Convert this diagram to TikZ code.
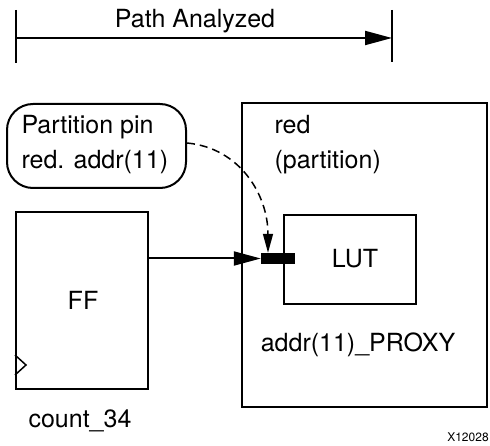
\documentclass[tikz,border=0pt]{standalone}
\usepackage{fontspec}
\setmainfont{TeX Gyre Heros}
\usetikzlibrary{arrows.meta}
\begin{document}
\begin{tikzpicture}[x=1pt,y=-1pt,
  box/.style={draw,line width=2pt,inner sep=0pt},
  big/.style={font=\fontsize{25}{35}\selectfont},
  bighead/.style={-{Triangle[length=27pt,width=14pt]}},
  smallhead/.style={-{Triangle[length=19pt,width=10pt]}}]
\useasboundingbox (0,0) rectangle (490,446);
% dimension line
\coordinate (dl) at (16,38);
\coordinate (dr) at (392,38);
\draw[line width=2.5pt] (16,10) -- (16,63);
\draw[line width=2.5pt] (392,10) -- (392,62);
\draw[line width=2pt,bighead] (dl) -- (dr);
\node[big,anchor=base] (title) at (195,28) {Path Analyzed};
% callout
\node[box,rounded corners=26pt,minimum width=179pt,minimum height=84pt] (callout) at (96.5,146) {};
\node[big,align=left,anchor=west] (callouttext) at (18,145) {Partition pin\\red. addr(11)};
% FF
\node[box,minimum width=132pt,minimum height=177pt] (ff) at (82,300.5) {};
\node[big] (fftext) at (83,300) {FF};
\draw[line width=1.5pt] (ff.west |- 0,355) -- (26,365) -- (ff.west |- 0,375);
\node[big,anchor=base] (ffname) at (80,427) {count\_34};
% red partition
\node[box,minimum width=245pt,minimum height=304pt] (red) at (364.5,255) {};
\node[big,align=left,anchor=west] (redtext) at (271,145) {red\\(partition)};
% LUT
\node[box,minimum width=132pt,minimum height=89pt] (lut) at (350,260) {};
\node[big] (luttext) at (355,259) {LUT};
\node[big,anchor=base] (proxy) at (358,352) {addr(11)\_PROXY};
% pin
\node[fill=black,minimum width=34pt,minimum height=11pt,inner sep=0pt] (pin) at (278,258.5) {};
% connectors
\draw[line width=2pt,bighead] (ff.east |- pin) -- (pin.west);
\draw[line width=1.5pt,dashed,dash pattern=on 8pt off 5pt,smallhead]
  (callout.east |- 0,143) .. controls (240,148) and (268,195) .. (pin.north -| 268,0);
\node[font=\fontsize{12}{14}\selectfont,anchor=base] (code) at (468,441) {X12028};
\end{tikzpicture}
\end{document}
